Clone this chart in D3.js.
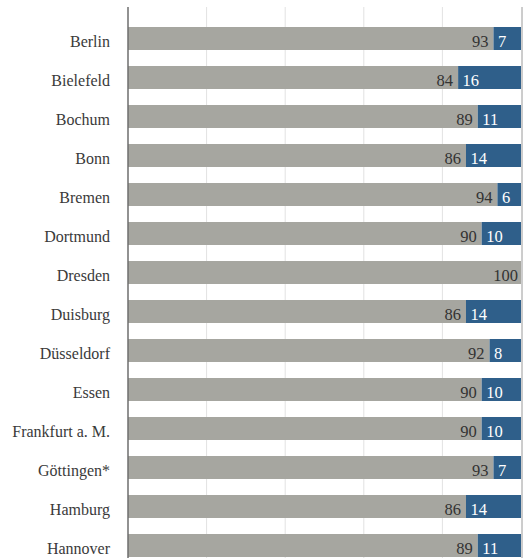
<!DOCTYPE html>
<html><head><meta charset="utf-8">
<script src="https://cdn.jsdelivr.net/npm/d3@7"></script>
<style>body{margin:0;background:#fff}svg{display:block}</style>
</head><body>
<script>
const cities = ["Berlin","Bielefeld","Bochum","Bonn","Bremen","Dortmund","Dresden","Duisburg","Düsseldorf","Essen","Frankfurt a. M.","Göttingen*","Hamburg","Hannover"];
const grayValues = [93,84,89,86,94,90,100,86,92,90,90,93,86,89];
const blueValues = [7,16,11,14,6,10,0,14,8,10,10,7,14,11];
const gridTicks = [0,20,40,60,80,100];

const W = 523, H = 558;
const svg = d3.select("body").append("svg").attr("width", W).attr("height", H);
const x = d3.scaleLinear().domain([0,100]).range([128,521]);
const step = 39, bh = 23;
const yPos = c => 27 + cities.indexOf(c)*step;

svg.selectAll("line.grid").data(gridTicks.slice(1,5)).join("line")
  .attr("x1", d=>x(d)).attr("x2", d=>x(d)).attr("y1", 7).attr("y2", H)
  .attr("stroke", "#e2e2e2").attr("stroke-width", 1);
svg.append("line").attr("x1", x(100)+1).attr("x2", x(100)+1).attr("y1", 7).attr("y2", H)
  .attr("stroke", "#9a9a9a").attr("stroke-width", 1);

const font = "'Liberation Serif', 'Times New Roman', serif";
const rows = svg.selectAll("g.row").data(cities).join("g").attr("class","row");
rows.append("rect").attr("x", x(0)).attr("y", d=>yPos(d)).attr("height", bh)
  .attr("width", (d,i)=>x(grayValues[i])-x(0)).attr("fill", "#a6a6a0");
rows.append("rect").attr("x", (d,i)=>x(grayValues[i])).attr("y", d=>yPos(d)).attr("height", bh)
  .attr("width", (d,i)=>x(grayValues[i]+blueValues[i])-x(grayValues[i])).attr("fill", "#2f5f8a");
rows.append("text").attr("x", 110).attr("y", d=>yPos(d)+19.5)
  .attr("text-anchor","end").style("font-family", font).attr("font-size", 16).attr("fill", "#3a3a3a")
  .text(d=>d);
rows.append("text").attr("x", (d,i)=>x(grayValues[i]) - (blueValues[i]>0?5:3)).attr("y", d=>yPos(d)+19.5)
  .attr("text-anchor","end").style("font-family", font).attr("font-size", 16.5).attr("fill", "#333")
  .text((d,i)=>grayValues[i]);
rows.filter((d,i)=>blueValues[i]>0).append("text")
  .attr("x", d=>x(grayValues[cities.indexOf(d)])+4.5).attr("y", d=>yPos(d)+19.5)
  .attr("text-anchor","start").style("font-family", font).attr("font-size", 16.5).attr("fill", "#fff")
  .text(d=>blueValues[cities.indexOf(d)]);

svg.append("line").attr("x1", x(0)).attr("x2", x(0)).attr("y1", 7).attr("y2", H)
  .attr("stroke", "#6e6e6e").attr("stroke-width", 1.5);
</script>
</body></html>
